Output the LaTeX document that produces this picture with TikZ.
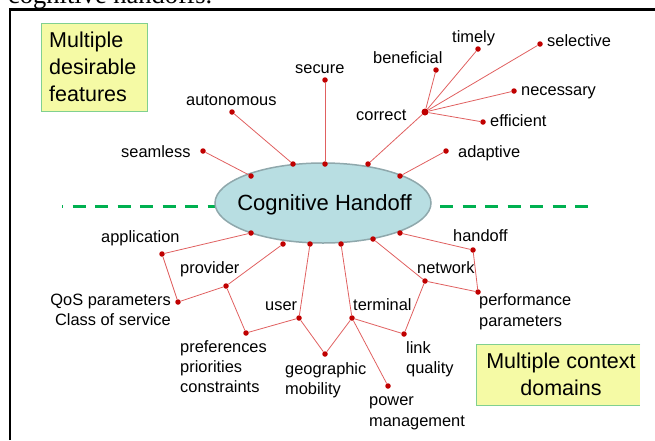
\documentclass[tikz,border=0pt]{standalone}
\usepackage{fontspec}
\setmainfont{Liberation Sans}
\newfontfamily\serifcap{Liberation Serif}
\usetikzlibrary{shapes.geometric}
\definecolor{dotred}{HTML}{C00000}
\definecolor{linered}{HTML}{E06060}
\definecolor{ellfill}{HTML}{B8DEE2}
\definecolor{elldraw}{HTML}{8FA8AC}
\definecolor{boxfill}{HTML}{F5FAA5}
\definecolor{boxdraw}{HTML}{80D090}
\definecolor{dashgreen}{HTML}{00B050}
\begin{document}
\begin{tikzpicture}[x=1pt,y=-1pt,
  dot/.style={circle,fill=dotred,inner sep=0pt,minimum size=5.5pt},
  hub/.style={dot,minimum size=7pt},
  conn/.style={draw=linered,line width=0.8pt},
  lbl/.style={inner sep=0pt,font=\fontsize{16.4}{20.2}\selectfont},
  boxtxt/.style={inner sep=0pt,font=\fontsize{21.5}{26.7}\selectfont},
  greendash/.style={draw=dashgreen,line width=3pt,dash pattern=on 13pt off 9.5pt},
]
\useasboundingbox (0,0) rectangle (655,440);
\clip (0,0) rectangle (655,440);

% cut-off caption and frame
\node[anchor=base west,inner sep=0pt,font=\serifcap\fontsize{26.5}{30}\selectfont] (title) at (8,3.5) {cognitive handoffs.};
\draw[line width=2.3pt] (10.3,440) |- (655,9.5);

% dashed separator
\draw[greendash,dash phase=12pt] (62,206) -- (216,206);
\draw[greendash] (440,206) -- (588,206);

% central ellipse
\node[ellipse,minimum width=216pt,minimum height=80pt,inner sep=0pt,fill=ellfill,draw=elldraw,line width=1.5pt] (cog) at (323,203) {};
\node[anchor=base,inner sep=0pt,font=\fontsize{22}{26}\selectfont] (cogtxt) at (324.5,210.5) {Cognitive Handoff};

% boxes (multi-line nodes: base anchor = last line)
\node[draw=boxdraw,fill=boxfill,line width=1pt,minimum width=106pt,minimum height=88pt,inner sep=0pt,anchor=north west] (featbox) at (41,23) {};
\node[boxtxt,anchor=base west,align=left] (feattxt) at (49,101) {Multiple\\desirable\\features};
\node[fill=boxfill,minimum width=164pt,minimum height=61pt,inner sep=0pt,anchor=north west] (ctxbox) at (476,344) {};
\draw[boxdraw,line width=1pt] (ctxbox.north east) -- (ctxbox.north west) -- (ctxbox.south west) -- (ctxbox.south east);
\node[boxtxt,anchor=base,align=center] (ctxtxt) at (561,395) {Multiple context\\domains};

% upper dots
\node[dot] (eSeam) at (251,176) {};
\node[dot] (dSeam) at (203,151) {};
\node[dot] (eAuto) at (293,164) {};
\node[dot] (dAuto) at (232,112) {};
\node[dot] (eSec) at (325,164) {};
\node[dot] (dSec) at (325,80) {};
\node[dot] (eCorr) at (368,164) {};
\node[hub] (hCorr) at (425,112) {};
\node[dot] (dBen) at (436,70) {};
\node[dot] (dTime) at (478,49) {};
\node[dot] (dSel) at (540,44) {};
\node[dot] (dNec) at (514,91) {};
\node[dot] (dEff) at (483,122) {};
\node[dot] (eAdap) at (400,176) {};
\node[dot] (dAdap) at (446,151) {};

% lower dots
\node[dot] (eApp) at (251,233) {};
\node[dot] (dApp) at (162,254) {};
\node[dot] (dQoS) at (178,302) {};
\node[dot] (eProv) at (283,244) {};
\node[dot] (mProv) at (226,286) {};
\node[dot] (dPref) at (246,333) {};
\node[dot] (eUser) at (310,244) {};
\node[dot] (mUser) at (299,318) {};
\node[dot] (dGeo) at (325,354) {};
\node[dot] (eTerm) at (341,244) {};
\node[dot] (mTerm) at (352,318) {};
\node[dot] (dPow) at (388,386) {};
\node[dot] (dLink) at (404,334) {};
\node[dot] (eNet) at (373,239) {};
\node[dot] (mNet) at (425,281) {};
\node[dot] (eHand) at (400,233) {};
\node[dot] (dHand) at (473,250) {};
\node[dot] (dPerf) at (478,292) {};

% upper connectors
\draw[conn] (eSeam) -- (dSeam);
\draw[conn] (eAuto) -- (dAuto);
\draw[conn] (eSec) -- (dSec);
\draw[conn] (eCorr) -- (hCorr);
\draw[conn] (hCorr) -- (dBen);
\draw[conn] (hCorr) -- (dTime);
\draw[conn] (hCorr) -- (dSel);
\draw[conn] (hCorr) -- (dNec);
\draw[conn] (hCorr) -- (dEff);
\draw[conn] (eAdap) -- (dAdap);

% lower connectors
\draw[conn] (eApp) -- (dApp) -- (dQoS) -- (mProv) -- (eProv);
\draw[conn] (mProv) -- (dPref) -- (mUser) -- (eUser);
\draw[conn] (mUser) -- (dGeo) -- (mTerm) -- (eTerm);
\draw[conn] (mTerm) -- (dPow);
\draw[conn] (mTerm) -- (dLink) -- (mNet) -- (eNet);
\draw[conn] (mNet) -- (dPerf) -- (dHand) -- (eHand);

% upper labels
\node[lbl,anchor=base west] (lSeam) at (121,157) {seamless};
\node[lbl,anchor=base west] (lAuto) at (186,105) {autonomous};
\node[lbl,anchor=base west] (lSec) at (295,73) {secure};
\node[lbl,anchor=base west] (lCorr) at (356,120) {correct};
\node[lbl,anchor=base west] (lBen) at (373,63.3) {beneficial};
\node[lbl,anchor=base west] (lTime) at (452,42.7) {timely};
\node[lbl,anchor=base west] (lSel) at (547,46) {selective};
\node[lbl,anchor=base west] (lNec) at (521,95) {necessary};
\node[lbl,anchor=base west] (lEff) at (490,126) {efficient};
\node[lbl,anchor=base west] (lAdap) at (458,157.5) {adaptive};

% lower labels
\node[lbl,anchor=base west] (lApp) at (101,242.3) {application};
\node[lbl,anchor=base west] (lProv) at (180,273.3) {provider};
\node[lbl,anchor=base east,align=right] (lQoS) at (171,325.7) {QoS parameters\\Class of service};
\node[lbl,anchor=base west] (lUser) at (265,310) {user};
\node[lbl,anchor=base west,align=left] (lPref) at (180,392.7) {preferences\\priorities\\constraints};
\node[lbl,anchor=base west,align=left] (lGeo) at (285,394.5) {geographic\\mobility};
\node[lbl,anchor=base west] (lTerm) at (353,310) {terminal};
\node[lbl,anchor=base west,align=left] (lPow) at (369,426) {power\\management};
\node[lbl,anchor=base west,align=left] (lLink) at (406,373.3) {link\\quality};
\node[lbl,anchor=base west] (lNet) at (417,273.3) {network};
\node[lbl,anchor=base west] (lHand) at (453,241.7) {handoff};
\node[lbl,anchor=base west,align=left] (lPerf) at (479,326) {performance\\parameters};
\end{tikzpicture}
\end{document}
